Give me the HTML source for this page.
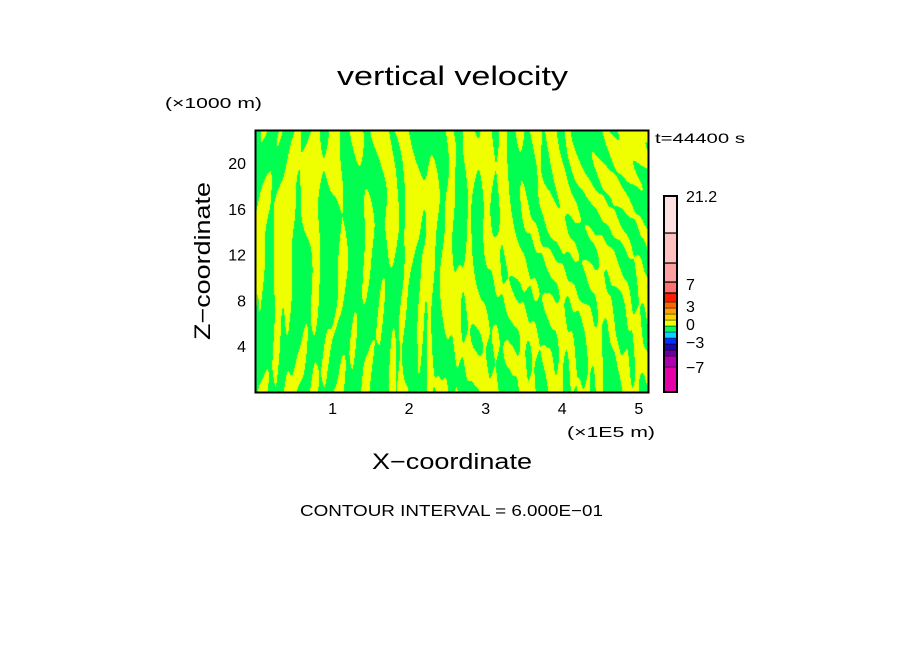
<!DOCTYPE html>
<html><head><meta charset="utf-8"><style>
body{margin:0;background:#fff;width:904px;height:654px;overflow:hidden;font-family:"Liberation Sans",sans-serif}
</style></head><body>
<svg width="904" height="654" style="position:absolute;left:0;top:0">
<text x="337" y="85" font-size="27" textLength="231" lengthAdjust="spacingAndGlyphs">vertical velocity</text>
<text x="165" y="108" font-size="15" textLength="97" lengthAdjust="spacingAndGlyphs">(×1000 m)</text>
<text x="655" y="143" font-size="14" textLength="90" lengthAdjust="spacingAndGlyphs">t=44400 s</text>
<foreignObject x="256" y="131" width="392" height="261"><canvas id="cv" width="392" height="261" xmlns="http://www.w3.org/1999/xhtml"></canvas></foreignObject>
<rect x="255.5" y="130.5" width="393" height="262" fill="none" stroke="#000" stroke-width="2"/>
<g id="xt" font-size="16" text-anchor="middle"></g>
<g id="yt" font-size="16" text-anchor="end"></g>
<text x="567" y="437" font-size="15" textLength="88" lengthAdjust="spacingAndGlyphs">(×1E5 m)</text>
<text x="372" y="469" font-size="22" textLength="160" lengthAdjust="spacingAndGlyphs">X−coordinate</text>
<text transform="translate(210,340) rotate(-90)" font-size="22" textLength="158" lengthAdjust="spacingAndGlyphs">Z−coordinate</text>
<text x="300" y="516" font-size="16" textLength="303" lengthAdjust="spacingAndGlyphs">CONTOUR INTERVAL = 6.000E−01</text>
<g id="cb"></g>
</svg>
<script>
const xTicks=[1,2,3,4,5];
const zTicks=[4,8,12,16,20];
const cbColors=["#e600a8","#b000b0","#6a00a0","#1a0aa8","#0030ff","#00d8ff","#00ff50","#f0ff00","#ffd000","#ffa000","#ff6400","#ff1a00","#ff7070","#ffa0a0","#ffc0c0","#ffe0e0"];
const cbBounds=[392,367,356,350,344,338,332,326,320,314,308,302,293,282,263,233,196];
const cbLabels=[["21.2",196],["7",284],["3",306],["0",324],["−3",342],["−7",367]];
const NS="http://www.w3.org/2000/svg";
const xs=v=>256+(v/5.12)*392, zs=v=>392-(v/22.8)*261;
const xt=document.getElementById('xt');
xTicks.forEach(v=>{const t=document.createElementNS(NS,'text');t.setAttribute('x',xs(v));t.setAttribute('y',414);t.textContent=v;


xt.appendChild(t);});
const yt=document.getElementById('yt');
zTicks.forEach(v=>{const t=document.createElementNS(NS,'text');t.setAttribute('x',246);t.setAttribute('y',zs(v)+6);t.textContent=v;


yt.appendChild(t);});
const cb=document.getElementById('cb');
cbColors.forEach((c,i)=>{const r=document.createElementNS(NS,'rect');const y1=cbBounds[i+1],y0=cbBounds[i];
r.setAttribute('x',664);r.setAttribute('y',y1);r.setAttribute('width',13);r.setAttribute('height',y0-y1);r.setAttribute('fill',c);r.setAttribute('stroke','#000');r.setAttribute('stroke-width',i>=12?1.2:0.4);


cb.appendChild(r);});
const fr=document.createElementNS(NS,'rect');fr.setAttribute('x',664);fr.setAttribute('y',196);fr.setAttribute('width',13);fr.setAttribute('height',196);fr.setAttribute('fill','none');fr.setAttribute('stroke','#000');fr.setAttribute('stroke-width',2);


cb.appendChild(fr);
cbLabels.forEach(([s,y])=>{const t=document.createElementNS(NS,'text');t.setAttribute('x',686);t.setAttribute('y',y+6);t.setAttribute('font-size',16);t.textContent=s;


cb.appendChild(t);});
// texture of the contour field (yellow / green bands)
const cv=document.getElementById('cv'),ctx=cv.getContext('2d');
const img=ctx.createImageData(392,261);
for(let y=0;y<261;y++)for(let x=0;x<392;x++){
 const u=x/392,v=y/261;
 const lean=(u-0.33)*(1-v)*1.4;
 const w=u+lean*0.5;
 const f=Math.sin(w*75+3*Math.sin(v*5+u*9))+0.7*Math.sin(u*31+v*8*Math.cos(u*6))
  +0.7*Math.sin(u*190+v*2)*v+0.5*Math.sin(u*260+v*4)*v*v
  +0.6*Math.sin(v*14+u*17)*(1-v)+0.4*Math.sin(v*22-u*29)*(1-v);
 const g=f>0.05;const k=(y*392+x)*4;
 img.data[k]=g?0:240;img.data[k+1]=255;img.data[k+2]=g?80:0;img.data[k+3]=255;}
ctx.putImageData(img,0,0);
</script>
</body></html>
